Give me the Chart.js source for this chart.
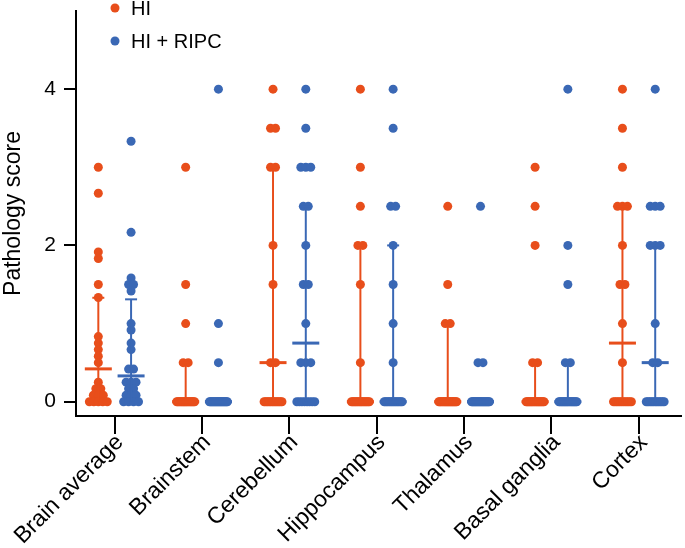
<!DOCTYPE html>
<html><head><meta charset="utf-8">
<script src="https://cdn.jsdelivr.net/npm/chart.js@4.4.0/dist/chart.umd.min.js"></script>
<style>html,body{margin:0;padding:0;background:#fff;}#wrap{width:685px;height:548px;position:relative;}</style>
</head><body><div id="wrap"><canvas id="c" width="685" height="548"></canvas></div>
<script>
// ---------------- DATA ----------------
const categories = ['Brain average','Brainstem','Cerebellum','Hippocampus','Thalamus','Basal ganglia','Cortex'];
const seriesNames = ['HI','HI + RIPC'];
const yTickValues = [0, 2, 4];
const scoreLevels = [0, 0.5, 1, 1.5, 2, 2.5, 3, 3.5, 4];

// Brain average: individual values
const hiBrainAverage = [3, 2.667, 1.917, 1.833, 1.5, 1.333, 0.833, 0.75, 0.667, 0.583, 0.5,
  0.25, 0.167, 0.167, 0.083, 0.083, 0.083, 0, 0, 0, 0, 0];
const ripcBrainAverage = [3.333, 2.167, 1.583, 1.5, 1.5, 1.417, 1.0, 0.917, 0.75, 0.667, 0.417, 0.417,
  0.25, 0.25, 0.25, 0.167, 0.167, 0.083, 0.083, 0.083, 0, 0, 0, 0];

// Regions: number of animals at each score level (0,0.5,1,...,4)
const hiBrainstem    = [17, 2, 1, 1, 0, 0, 1, 0, 0];
const hiCerebellum   = [13, 2, 0, 1, 1, 0, 2, 2, 1];
const hiHippocampus  = [15, 1, 0, 1, 2, 1, 1, 0, 1];
const hiThalamus     = [18, 0, 2, 1, 0, 1, 0, 0, 0];
const hiBasalGanglia = [17, 2, 0, 0, 1, 1, 1, 0, 0];
const hiCortex       = [11, 1, 1, 2, 1, 3, 1, 1, 1];

const ripcBrainstem    = [19, 1, 1, 0, 0, 0, 0, 0, 1];
const ripcCerebellum   = [8, 3, 1, 2, 1, 2, 3, 1, 1];
const ripcHippocampus  = [14, 1, 1, 1, 1, 2, 0, 1, 1];
const ripcThalamus     = [19, 2, 0, 0, 0, 1, 0, 0, 0];
const ripcBasalGanglia = [17, 2, 0, 1, 1, 0, 0, 0, 1];
const ripcCortex       = [12, 2, 1, 0, 3, 3, 0, 0, 1];

// Median and error bar (low/high) per category
const hiMedian   = [0.42, 0, 0.5, 0, 0, 0, 0.75];
const hiLow      = [0, 0, 0, 0, 0, 0, 0];
const hiHigh     = [1.33, 0.5, 3, 2, 1, 0.5, 2.5];
const ripcMedian = [0.33, 0, 0.75, 0, 0, 0, 0.5];
const ripcLow    = [0, 0, 0, 0, 0, 0, 0];
const ripcHigh   = [1.31, 0, 2.5, 2, 0, 0.5, 2];

// ---------------- STYLE / LAYOUT ----------------
const FONT = '"Liberation Sans", Arial, Helvetica, sans-serif';
const COLORS = ['#E84E1B', '#3A68B5'];
const GROUP_OFFSET_PX = 16.5;
const PX_PER_UNIT = 88;

function expandCounts(counts){
  const out = [];
  counts.forEach((n, k) => { for (let j = 0; j < n; j++) out.push(scoreLevels[k]); });
  return out;
}
const hiValues = [hiBrainAverage, hiBrainstem, hiCerebellum, hiHippocampus, hiThalamus, hiBasalGanglia, hiCortex]
  .map((a, i) => i === 0 ? a : expandCounts(a));
const ripcValues = [ripcBrainAverage, ripcBrainstem, ripcCerebellum, ripcHippocampus, ripcThalamus, ripcBasalGanglia, ripcCortex]
  .map((a, i) => i === 0 ? a : expandCounts(a));

function swarm(values, center){
  const groups = new Map();
  values.forEach(v => { const k = v.toFixed(3); if (!groups.has(k)) groups.set(k, []); groups.get(k).push(v); });
  const pts = [];
  groups.forEach(arr => {
    const n = arr.length;
    const s = n > 1 ? Math.min(5, 18 / (n - 1)) : 0;
    arr.forEach((v, i) => pts.push({ x: center + ((i - (n - 1) / 2) * s) / PX_PER_UNIT, y: v }));
  });
  return pts;
}
function seriesPoints(valuesList, sign){
  let pts = [];
  valuesList.forEach((vals, i) => { pts = pts.concat(swarm(vals, i + sign * GROUP_OFFSET_PX / PX_PER_UNIT)); });
  return pts;
}

const summaryPlugin = {
  id: 'summary',
  afterDatasetsDraw(chart){
    const { ctx, scales: { x, y } } = chart;
    const sets = [[hiMedian, hiLow, hiHigh], [ripcMedian, ripcLow, ripcHigh]];
    sets.forEach(([med, lo, hi], g) => {
      ctx.save();
      ctx.strokeStyle = COLORS[g];
      ctx.lineCap = 'butt';
      const line = (a, b, c, d) => { ctx.beginPath(); ctx.moveTo(a, b); ctx.lineTo(c, d); ctx.stroke(); };
      categories.forEach((c, i) => {
        const cx = x.getPixelForValue(i + (g === 0 ? -1 : 1) * GROUP_OFFSET_PX / PX_PER_UNIT);
        const yl = y.getPixelForValue(lo[i]), yh = y.getPixelForValue(hi[i]), ym = y.getPixelForValue(med[i]);
        if (hi[i] > lo[i]) {
          ctx.lineWidth = 2;
          line(cx, yl, cx, yh);
          line(cx - 6, yh, cx + 6, yh);
        }
        ctx.lineWidth = 3;
        line(cx - 13.5, ym, cx + 13.5, ym);
      });
      ctx.restore();
    });
  }
};

const legendPlugin = {
  id: 'customLegend',
  afterDraw(chart){
    const ctx = chart.ctx;
    ctx.save();
    ctx.font = '20px ' + FONT;
    ctx.textBaseline = 'middle';
    ctx.textAlign = 'left';
    seriesNames.forEach((name, g) => {
      const yy = 8 + g * 33;
      ctx.fillStyle = COLORS[g];
      ctx.beginPath(); ctx.arc(115, yy, 4.5, 0, Math.PI * 2); ctx.fill();
      ctx.fillStyle = '#000';
      ctx.fillText(name, 131, yy + 1);
    });
    ctx.restore();
  }
};

new Chart(document.getElementById('c'), {
  type: 'scatter',
  data: {
    datasets: [
      { label: seriesNames[0], data: seriesPoints(hiValues, -1), backgroundColor: COLORS[0], borderWidth: 0, pointRadius: 4.5, pointHoverRadius: 4.5 },
      { label: seriesNames[1], data: seriesPoints(ripcValues, 1), backgroundColor: COLORS[1], borderWidth: 0, pointRadius: 4.5, pointHoverRadius: 4.5 }
    ]
  },
  options: {
    responsive: false,
    animation: false,
    devicePixelRatio: 1,
    events: [],
    layout: { padding: { top: 11, left: 0, right: 0, bottom: 0 } },
    plugins: { legend: { display: false }, tooltip: { enabled: false } },
    scales: {
      x: {
        type: 'linear', min: -0.443, max: 6.477,
        afterBuildTicks(s){ s.ticks = categories.map((c, i) => ({ value: i })); },
        afterFit(s){ s.height = 132; s.paddingLeft = 0; s.paddingRight = 0; },
        border: { display: true, color: '#000', width: 2 },
        grid: { display: true, drawOnChartArea: false, drawTicks: true, tickLength: 18, color: '#000', lineWidth: 2 },
        ticks: { autoSkip: false, minRotation: 45, maxRotation: 45, color: '#000', padding: -5, labelOffset: 5,
          font: { family: FONT, size: 23 }, callback: (v) => categories[v] }
      },
      y: {
        type: 'linear', min: -0.183, max: 5,
        afterBuildTicks(s){ s.ticks = yTickValues.map(v => ({ value: v })); },
        afterFit(s){ s.width = 76; s.paddingTop = 0; s.paddingBottom = 0; },
        border: { display: true, color: '#000', width: 2 },
        grid: { display: true, drawOnChartArea: false, drawTicks: true, tickLength: 12, color: '#000', lineWidth: 2 },
        ticks: { color: '#000', padding: 8, font: { family: FONT, size: 21 } },
        title: { display: true, text: 'Pathology score', color: '#000', font: { family: FONT, size: 23 }, padding: 0 }
      }
    }
  },
  plugins: [summaryPlugin, legendPlugin]
});
</script>
</body></html>
